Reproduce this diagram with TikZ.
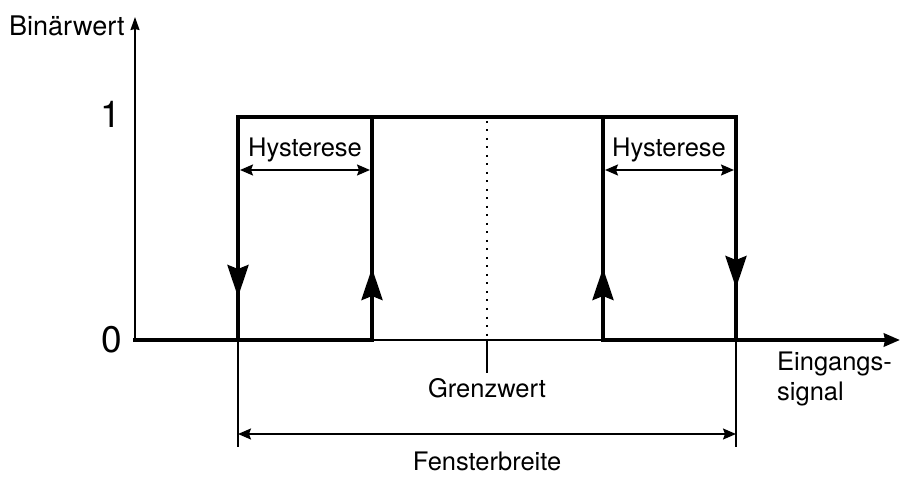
\documentclass[tikz,border=0pt]{standalone}
\usepackage{fontspec}
\setmainfont{TeX Gyre Heros}
\usetikzlibrary{arrows.meta}
\begin{document}
\begin{tikzpicture}[x=1pt,y=-1pt,
  thickline/.style={line width=4pt,line cap=rect,line join=miter},
  thinline/.style={line width=1.6pt},
  bigtip/.style={-{Stealth[length=32pt,width=21pt,inset=4pt]},line width=4pt},
  dimarrow/.style={{Stealth[length=13pt,width=11pt,inset=2pt]}-{Stealth[length=13pt,width=11pt,inset=2pt]},line width=1.6pt},
  lbl/.style={inner sep=0pt,font=\fontsize{25.5}{30}\selectfont},
  digit/.style={inner sep=0pt,font=\fontsize{37}{42}\selectfont}]
\useasboundingbox (0,0) rectangle (902,478);
% coordinates
\coordinate (o) at (135,340);
\coordinate (ytip) at (135,17);
\coordinate (xtip) at (900,340);
\coordinate (a0) at (238,340); \coordinate (a1) at (238,117);
\coordinate (b0) at (372,340); \coordinate (b1) at (372,117);
\coordinate (c0) at (603,340); \coordinate (c1) at (603,117);
\coordinate (d0) at (736,340); \coordinate (d1) at (736,117);
\coordinate (g0) at (487,340); \coordinate (g1) at (487,117); \coordinate (g2) at (487,373);
\coordinate (ae) at (238,447); \coordinate (de) at (736,447);
\coordinate (fa) at (238,434); \coordinate (fd) at (736,434);
\coordinate (ha1) at (240,170); \coordinate (hb1) at (370,170);
\coordinate (ha2) at (605,170); \coordinate (hb2) at (734,170);
% axes
\draw[thinline,-{Stealth[length=13pt,width=9pt,inset=1pt]}] (o) -- (ytip);
\draw[line width=2pt] (b0) -- (c0);
\draw[line width=4pt,-{Stealth[length=16pt,width=13pt,inset=1pt]}] (c0) -- (xtip);
% signal
\draw[thickline] (o) -- (b0) -- (b1);
\draw[thickline] (a0) -- (a1) -- (d1) -- (d0) -- (c0) -- (c1);
% extension lines
\draw[thinline] (a0) -- (ae);
\draw[thinline] (d0) -- (de);
\draw[line width=2pt] (g0) -- (g2);
\draw[line width=2pt,dash pattern=on 2pt off 6.5pt] (g1) ++(0,4) -- (g0);
% direction arrowheads
\draw[bigtip] (238,262) -- (238,297);
\draw[bigtip] (372,300) -- (372,268);
\draw[bigtip] (603,300) -- (603,268);
\draw[bigtip] (736,252) -- (736,288);
% dimension arrows
\draw[dimarrow] (ha1) -- (hb1);
\draw[dimarrow] (ha2) -- (hb2);
\draw[dimarrow] (fa) -- (fd);
% labels
\node[lbl,anchor=base] (hys1) at (305,157) {Hysterese};
\node[lbl,anchor=base] (hys2) at (669,157) {Hysterese};
\node[lbl,anchor=base] (grenz) at (487,397) {Grenzwert};
\node[lbl,anchor=base] (fenster) at (487,470) {Fensterbreite};
\node[lbl,anchor=base west] (ein1) at (777,370) {Eingangs-};
\node[lbl,anchor=base west] (ein2) at (777,400) {signal};
\node[inner sep=0pt,font=\fontsize{27}{32}\selectfont,anchor=base west] (bin) at (9,36) {Binärwert};
\node[digit,anchor=base] (one) at (111,128) {1};
\node[digit,anchor=base] (zero) at (112,352) {0};
\end{tikzpicture}
\end{document}
